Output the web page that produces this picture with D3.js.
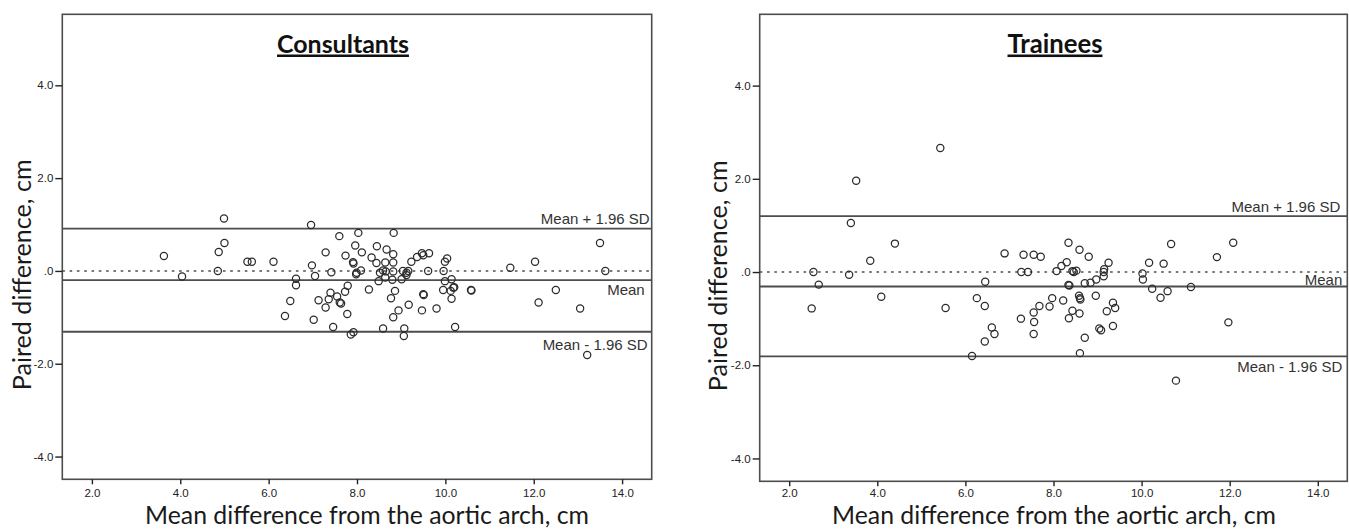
<!DOCTYPE html>
<html>
<head>
<meta charset="utf-8">
<script src="https://cdn.jsdelivr.net/npm/d3@7"></script>
<style>
  body { margin: 0; background: #fff; }
  svg { display: block; }
</style>
</head>
<body>
<svg id="chart" width="1349" height="529"></svg>
<script>
// Bland-Altman plots, values (cm)
var consX = [3.63, 4.04, 4.99, 5.00, 4.87, 4.85, 5.52, 5.62, 6.11, 6.96, 6.98, 7.05, 6.62, 6.62, 6.49,
    6.37, 7.02, 7.13, 7.29, 7.36, 7.40, 7.46, 7.29, 7.42, 7.60, 7.55, 7.61, 7.64, 7.73, 7.79,
    7.78, 7.74, 7.91, 7.92, 7.96, 8.03, 7.98, 7.99, 8.09, 8.11, 7.86, 7.92, 8.27, 8.33, 8.45,
    8.44, 8.67, 8.83, 8.82, 8.64, 8.82, 8.52, 8.59, 8.65, 8.49, 8.64, 8.80, 8.82, 8.86, 8.77,
    8.82, 8.59, 8.94, 9.17, 9.07, 9.06, 9.01, 9.04, 9.12, 9.12, 9.16, 9.23, 9.36, 9.47, 9.50,
    9.63, 9.61, 9.50, 9.51, 9.47, 9.80, 9.96, 9.99, 10.04, 9.99, 9.95, 10.14, 10.18, 10.20, 10.12,
    10.14, 10.22, 10.59, 10.58, 11.47, 12.03, 12.11, 12.50, 13.05, 13.50, 13.62, 13.21];
var consY = [0.32, -0.12, 1.13, 0.60, 0.41, 0.00, 0.20, 0.20, 0.20, 0.99, 0.12, -0.11, -0.17, -0.31, -0.65,
    -0.97, -1.05, -0.63, -0.79, -0.61, -0.47, -1.21, 0.40, -0.03, 0.75, -0.55, -0.68, -0.70, -0.45, -0.32,
    -0.93, 0.33, 0.19, 0.16, 0.55, 0.82, -0.07, -0.04, 0.01, 0.40, -1.37, -1.32, -0.40, 0.29, 0.53,
    0.17, 0.46, 0.82, 0.36, 0.18, 0.18, -0.04, 0.01, -0.01, -0.22, -0.14, -0.19, -0.01, -0.43, -0.59,
    -1.00, -1.24, -0.85, -0.73, -1.24, -1.40, -0.18, 0.00, -0.04, -0.09, 0.00, 0.20, 0.30, 0.38, 0.34,
    0.38, 0.00, -0.50, -0.52, -0.85, -0.81, 0.00, 0.20, 0.27, -0.22, -0.41, -0.18, -0.36, -0.35, -0.43,
    -0.60, -1.21, -0.42, -0.41, 0.07, 0.20, -0.68, -0.41, -0.81, 0.60, 0.00, -1.81];
var consLimits = [0.91, -0.20, -1.31];

var trainX = [5.43, 3.52, 3.40, 4.40, 3.84, 2.55, 3.36, 2.67, 2.51, 4.09, 5.55, 6.45, 6.26, 6.44, 6.60,
    6.66, 6.44, 6.15, 6.89, 7.32, 7.55, 7.71, 7.27, 7.42, 7.26, 7.55, 7.68, 7.56, 7.55, 7.91,
    7.97, 8.22, 8.07, 8.18, 8.30, 8.34, 8.59, 8.80, 8.43, 8.46, 8.52, 8.34, 8.36, 8.71, 8.84,
    8.97, 9.14, 9.14, 9.15, 9.25, 8.58, 8.60, 8.61, 8.96, 8.43, 8.35, 8.59, 9.35, 9.40, 9.21,
    9.04, 9.08, 9.35, 8.71, 8.60, 10.02, 10.03, 10.17, 10.24, 10.43, 10.59, 10.50, 10.67, 11.12, 11.71,
    12.08, 11.97, 10.78];
var trainY = [2.66, 1.96, 1.05, 0.61, 0.24, 0.00, -0.06, -0.27, -0.78, -0.53, -0.77, -0.21, -0.56, -0.73, -1.19,
    -1.33, -1.49, -1.80, 0.40, 0.37, 0.37, 0.33, 0.00, 0.00, -1.00, -0.87, -0.73, -1.07, -1.33, -0.74,
    -0.56, -0.61, 0.02, 0.13, 0.21, 0.63, 0.48, 0.33, 0.02, 0.00, 0.03, -0.28, -0.29, -0.24, -0.23,
    -0.16, -0.09, 0.00, 0.06, 0.20, -0.51, -0.56, -0.59, -0.51, -0.83, -0.99, -0.89, -0.66, -0.77, -0.84,
    -1.21, -1.25, -1.16, -1.41, -1.74, -0.03, -0.16, 0.20, -0.36, -0.55, -0.41, 0.18, 0.60, -0.32, 0.32,
    0.63, -1.08, -2.33];
var trainLimits = [1.20, -0.31, -1.81];

var limitLabels = ["Mean + 1.96 SD", "Mean", "Mean - 1.96 SD"];
var xTicks = [2, 4, 6, 8, 10, 12, 14];
var xTickLabels = ["2.0", "4.0", "6.0", "8.0", "10.0", "12.0", "14.0"];
var yTicks = [-4, -2, 0, 2, 4];
var yTickLabels = ["-4.0", "-2.0", ".0", "2.0", "4.0"];
var xTitle = "Mean difference from the aortic arch, cm";
var yTitle = "Paired difference, cm";

var svg = d3.select("#chart");
var frameColor = "#4d4d4d";

function fitWidth(text, w) {
    var len = text.node().getComputedTextLength();
    var fs = parseFloat(text.style("font-size"));
    text.style("font-size", (fs * w / len) + "px");
}

function buildPanel(p, xs, ys, limits, title) {
    var x = d3.scaleLinear().domain([1.33, 14.67]).range([p.left, p.right]);
    var y = d3.scaleLinear().domain([-4.49, 5.53]).range([p.bottom, p.top]);
    var g = svg.append("g");

    // zero reference, dotted
    g.append("line")
        .attr("x1", p.left).attr("x2", p.right)
        .attr("y1", y(0)).attr("y2", y(0))
        .attr("stroke", "#7a7a7a")
        .attr("stroke-width", 2)
        .attr("stroke-dasharray", "2.6,4.7");

    g.selectAll(".limit")
        .data(limits)
        .enter().append("line")
        .attr("class", "limit")
        .attr("x1", p.left).attr("x2", p.right)
        .attr("y1", function (d) { return y(d); })
        .attr("y2", function (d) { return y(d); })
        .attr("stroke", frameColor)
        .attr("stroke-width", 1.8);

    g.selectAll(".limit-label")
        .data(limits)
        .enter().append("text")
        .attr("class", "limit-label")
        .attr("x", function (d, i) { return p.right - p.labelInset[i]; })
        .attr("y", function (d, i) { return y(d) + p.labelDy[i]; })
        .attr("text-anchor", "end")
        .attr("fill", "#333")
        .style("font-family", "'Liberation Sans', Arial, sans-serif")
        .style("font-size", "15px")
        .text(function (d, i) { return limitLabels[i]; });

    g.selectAll(".pt")
        .data(d3.range(xs.length))
        .enter().append("circle")
        .attr("class", "pt")
        .attr("cx", function (i) { return x(xs[i]); })
        .attr("cy", function (i) { return y(ys[i]); })
        .attr("r", 3.6)
        .attr("fill", "none")
        .attr("stroke", "#2b2b2b")
        .attr("stroke-width", 1.25);

    g.append("rect")
        .attr("x", p.left).attr("y", p.top)
        .attr("width", p.right - p.left)
        .attr("height", p.bottom - p.top)
        .attr("fill", "none")
        .attr("stroke", frameColor)
        .attr("stroke-width", 1.6);

    var yAxis = d3.axisLeft(y)
        .tickValues(yTicks)
        .tickSize(7)
        .tickPadding(2)
        .tickFormat(function (d, i) { return yTickLabels[i]; });
    var xAxis = d3.axisBottom(x)
        .tickValues(xTicks)
        .tickSize(5)
        .tickPadding(p.xPad)
        .tickFormat(function (d, i) { return xTickLabels[i]; });

    [g.append("g").attr("transform", "translate(" + p.left + ",0)").call(yAxis),
     g.append("g").attr("transform", "translate(0," + p.bottom + ")").call(xAxis)]
        .forEach(function (a) {
            a.select(".domain").remove();
            a.selectAll(".tick line").attr("stroke", "#222").attr("stroke-width", 1.4);
            a.selectAll(".tick text")
                .attr("fill", "#222")
                .style("font-family", "'Liberation Sans', Arial, sans-serif")
                .style("font-size", "11.5px");
        });

    var t = g.append("text")
        .attr("x", p.titleX).attr("y", 52.5)
        .attr("text-anchor", "middle")
        .attr("fill", "#111")
        .style("font-family", "Lato, 'Open Sans', sans-serif")
        .style("font-weight", "bold")
        .style("font-size", "21px")
        .style("text-decoration", "underline")
        .text(title);
    fitWidth(t, p.titleW);

    var yt = g.append("text")
        .attr("transform", "translate(" + p.yTitleX + "," + ((p.top + p.bottom) / 2 + 28) + ") rotate(-90)")
        .attr("text-anchor", "middle")
        .attr("fill", "#1a1a1a")
        .style("font-family", "Lato, 'Open Sans', sans-serif")
        .style("font-size", "26px")
        .text(yTitle);
    fitWidth(yt, 231);

    var xt = g.append("text")
        .attr("x", p.xTitleX).attr("y", 524)
        .attr("text-anchor", "middle")
        .attr("fill", "#1a1a1a")
        .style("font-family", "Lato, 'Open Sans', sans-serif")
        .style("font-size", "26px")
        .text(xTitle);
    fitWidth(xt, 444);
}

buildPanel({left: 62.3, right: 651.7, top: 14.3, bottom: 479.3, xPad: 5,
            titleX: 343, titleW: 132, yTitleX: 31, xTitleX: 367,
            labelInset: [2, 7, 4], labelDy: [-4.5, 15, 18]},
           consX, consY, consLimits, "Consultants");

buildPanel({left: 759.7, right: 1347.3, top: 14.3, bottom: 481.3, xPad: 3,
            titleX: 1055, titleW: 95, yTitleX: 727, xTitleX: 1054,
            labelInset: [7, 5, 5], labelDy: [-4, -1, 16]},
           trainX, trainY, trainLimits, "Trainees");
</script>
</body>
</html>
